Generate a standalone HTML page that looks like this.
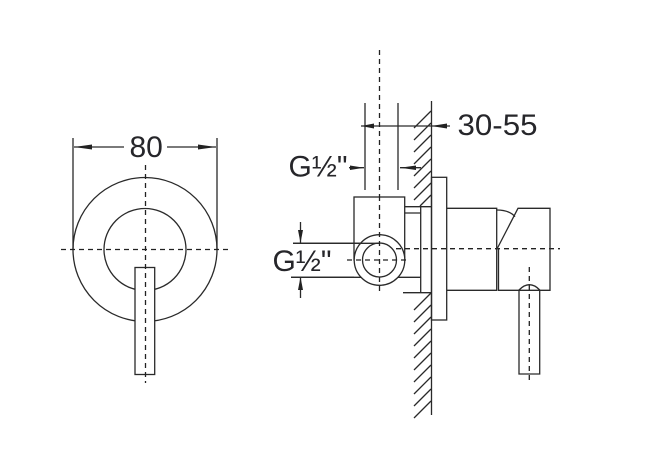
<!DOCTYPE html>
<html><head><meta charset="utf-8"><style>
html,body{margin:0;padding:0;background:#fff;width:647px;height:473px;overflow:hidden}
svg{display:block}
text{font-family:"Liberation Sans",sans-serif;fill:#26262a;font-size:30px}
.l{stroke:#2a2a2a;stroke-width:1.3;fill:none}
.d{stroke:#222;stroke-width:1.3;fill:none;stroke-dasharray:5 4}
.a{fill:#222;stroke:none}
</style></head><body>
<svg width="647" height="473" viewBox="0 0 647 473" xmlns="http://www.w3.org/2000/svg">
<!-- left view -->
<circle class="l" cx="145" cy="249.5" r="72"/>
<circle class="l" cx="145" cy="249.5" r="41"/>
<rect x="135" y="267.5" width="19.7" height="107" fill="#fff" stroke="#2a2a2a" stroke-width="1.3"/>
<path class="l" d="M73 138V249M217 138V249M74 147H124M167 147H216"/>
<path class="a" d="M74 147L92 144.5V149.5ZM216 147L198 144.5V149.5Z"/>
<path class="d" d="M145.5 165V383M61 249.5H231"/>
<text x="129.500" y="157">80</text>
<!-- wall hatch -->
<path class="l" d="M414 128L431 111M414 140L431 123M414 152L431 135M414 164L431 147M414 176L431 159M414 188L431 171M414 200L431 183M420 206L431 195M414 310L431 293M414 322L431 305M414 334L431 317M414 346L431 329M414 358L431 341M414 370L431 353M414 382L431 365M414 394L431 377M414 406L431 389M414 418L431 401"/>
<path class="l" d="M431.500 101V415"/>
<!-- dims top -->
<path class="l" d="M365 103V190M398 103V190M361 126H450"/>
<path class="a" d="M361 126L374 123.500V128.500ZM431 126L447 123.500V128.500Z"/>
<path class="l" d="M349 167.700H364M400 167.700H421"/>
<path class="a" d="M364 167.700L350 165.500V170ZM400 167.700L416 165.500V170Z"/>
<path class="d" d="M379.500 50V196"/>
<text x="457.500" y="135" textLength="80" lengthAdjust="spacingAndGlyphs">30-55</text>
<text x="288.500" y="176.700">G½"</text>
<!-- body -->
<rect x="354" y="197" width="50.700" height="63" fill="#fff" stroke="#2a2a2a" stroke-width="1.3"/>
<path class="l" d="M404.700 206.700H431M404.700 213H420.700M420.700 206.700V292.700M403 292.700H431M291 277.300H420.700M293 243.300H380"/>
<circle cx="379.500" cy="260" r="25.300" fill="#fff" stroke="#2a2a2a" stroke-width="1.300"/>
<circle class="l" cx="379.500" cy="260" r="17"/>
<path class="l" d="M291 277.300H354M293 243.300H380"/>
<path class="d" d="M379.500 196V294M347 260H410"/>
<path class="d" d="M396 248.700H560"/>
<!-- G arrows -->
<path class="l" d="M300.500 222V243M300.500 277V298"/>
<path class="a" d="M300.500 243L298 230H303ZM300.500 277L298 290H303Z"/>
<text x="272.500" y="271">G½"</text>
<!-- flange + body -->
<rect x="431.500" y="177.300" width="15.200" height="142.700" fill="none" stroke="#2a2a2a" stroke-width="1.300"/>
<path class="l" d="M446.700 208.300H496.700V290.300H446.700"/>
<path class="l" d="M496.700 210C505 210 511 212 515 216.700"/>
<path class="l" d="M498.500 249V290.300H550V208.300H518L497 249"/>
<path class="l" d="M519 374V290C523 286 526 284.700 529.300 284.700C533 284.700 536 286 539.700 290V374Z"/>
<path class="d" d="M529.300 267V383"/>
</svg>
</body></html>
